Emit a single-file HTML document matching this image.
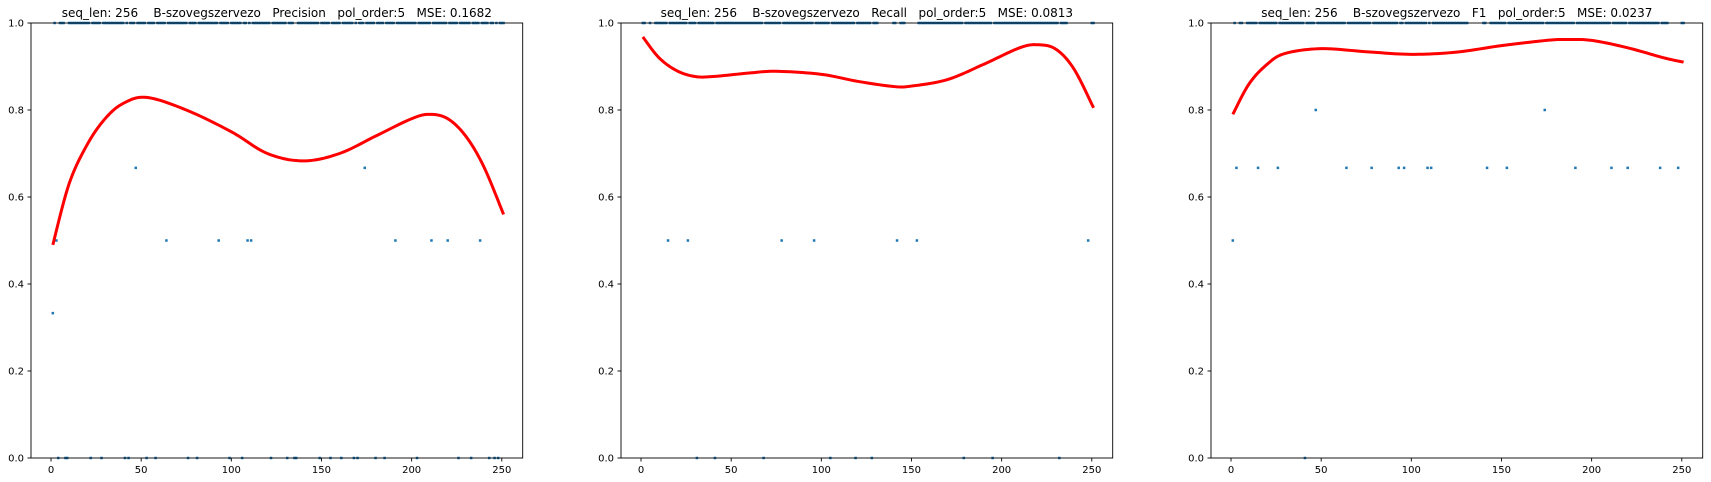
<!DOCTYPE html>
<html><head><meta charset="utf-8"><style>
html,body{margin:0;padding:0;background:#fff;}
svg{display:block;font-family:"DejaVu Sans","Liberation Sans",sans-serif;}
.ttl{white-space:pre;}
</style></head><body>
<svg id="fig" width="1711" height="482" viewBox="0 0 1711 482" xmlns="http://www.w3.org/2000/svg" xml:space="preserve"></svg>
<script>
// ---- data ----
const titles = [
  "seq_len: 256    B-szovegszervezo   Precision   pol_order:5   MSE: 0.1682",
  "seq_len: 256    B-szovegszervezo   Recall   pol_order:5   MSE: 0.0813",
  "seq_len: 256    B-szovegszervezo   F1   pol_order:5   MSE: 0.0237"
];
const xTicks = [0, 50, 100, 150, 200, 250];
const yTicks = [0, 0.2, 0.4, 0.6, 0.8, 1.0];
const yTickLabels = ["0.0", "0.2", "0.4", "0.6", "0.8", "1.0"];

// fitted curves (x, y)
const precCurveX = [1, 10, 20, 30, 40, 53, 75, 100, 120, 140, 160, 180, 200, 210, 220, 230, 240, 251];
const precCurveY = [0.49, 0.63, 0.72, 0.78, 0.815, 0.829, 0.80, 0.75, 0.70, 0.683, 0.70, 0.74, 0.78, 0.79, 0.78, 0.74, 0.67, 0.56];
const recCurveX = [1, 10, 20, 30, 40, 60, 75, 100, 120, 140, 150, 170, 190, 210, 220, 230, 240, 251];
const recCurveY = [0.968, 0.92, 0.89, 0.877, 0.877, 0.885, 0.889, 0.882, 0.866, 0.854, 0.855, 0.87, 0.905, 0.943, 0.95, 0.94, 0.895, 0.805];
const f1CurveX = [1, 10, 20, 30, 50, 75, 100, 125, 150, 175, 185, 200, 220, 240, 251];
const f1CurveY = [0.79, 0.86, 0.905, 0.93, 0.941, 0.934, 0.928, 0.933, 0.948, 0.96, 0.962, 0.96, 0.943, 0.92, 0.91];

// scatter points (non-1 values)
const precPtsX = [1,3,64,93,109,111,191,211,220,238,47,174,4,8,9,22,28,41,43,53,58,76,81,99,106,122,131,135,136,149,155,161,168,170,180,185,203,226,233,243,246,248];
const precPtsY = [0.333,0.5,0.5,0.5,0.5,0.5,0.5,0.5,0.5,0.5,0.667,0.667,0,0,0,0,0,0,0,0,0,0,0,0,0,0,0,0,0,0,0,0,0,0,0,0,0,0,0,0,0,0];
const recPtsX = [15,26,78,96,142,153,248,31,41,68,105,119,128,179,195,232];
const recPtsY = [0.5,0.5,0.5,0.5,0.5,0.5,0.5,0,0,0,0,0,0,0,0,0];
const f1PtsX = [1,3,15,26,64,78,93,96,109,111,142,153,191,211,220,238,248,47,174,41];
const f1PtsY = [0.5,0.667,0.667,0.667,0.667,0.667,0.667,0.667,0.667,0.667,0.667,0.667,0.667,0.667,0.667,0.667,0.667,0.8,0.8,0];

// runs of x positions where value == 1.0
const precOnes = [[2,2],[5,7],[10,21],[23,27],[29,40],[42,42],[44,46],[48,52],[54,57],[59,63],[65,75],[77,80],[82,92],[94,98],[100,105],[107,108],[110,110],[112,121],[123,130],[132,134],[137,148],[150,154],[156,160],[162,167],[169,169],[171,173],[175,179],[181,184],[186,190],[192,202],[204,210],[212,219],[221,225],[227,232],[234,237],[239,242],[244,245],[247,247],[249,251]];
const recOnes = [[1,2],[5,5],[8,14],[16,25],[27,30],[32,40],[42,67],[69,77],[79,95],[97,104],[106,118],[120,127],[129,131],[140,141],[144,146],[154,178],[180,194],[196,231],[233,236],[250,251]];
const f1Ones = [[2,2],[5,6],[9,14],[16,25],[27,40],[42,46],[48,63],[65,77],[79,92],[94,95],[97,108],[110,110],[112,131],[140,141],[144,152],[154,173],[175,190],[192,210],[212,219],[221,237],[239,242],[250,251]];

const panels = [
  {key:"precision", cx:precCurveX, cy:precCurveY, px:precPtsX, py:precPtsY, ones:precOnes},
  {key:"recall", cx:recCurveX, cy:recCurveY, px:recPtsX, py:recPtsY, ones:recOnes},
  {key:"f1", cx:f1CurveX, cy:f1CurveY, px:f1PtsX, py:f1PtsY, ones:f1Ones}
];

// ---- layout ----
const NS = "http://www.w3.org/2000/svg";
const svg = document.getElementById("fig");
const AX_LEFT0 = 31, AX_W = 491.7, AX_TOP = 23, AX_BOT = 458, PANEL_DX = 590;
const XMIN = -11.1, XMAX = 261.6;
function mk(tag, attrs, parent){const e=document.createElementNS(NS,tag);for(const k in attrs)e.setAttribute(k,attrs[k]);(parent||svg).appendChild(e);return e;}

panels.forEach((p, i) => {
  const L = AX_LEFT0 + i*PANEL_DX;
  const sx = v => L + (v - XMIN) / (XMAX - XMIN) * AX_W;
  const sy = v => AX_BOT - v * (AX_BOT - AX_TOP);
  const g = mk("g", {});
  
  

  // title
  const t = mk("text", {x: L + AX_W/2, y: 17, "text-anchor":"middle", "font-size":"12", fill:"#000", "class":"ttl"}, g);
  t.textContent = titles[i];
  
  

  // scatter
  const sg = mk("g", {fill:"#1f77b4"}, g);
  
  
  const dot = (x, y) => {
    const r = mk("rect", {x: sx(x)-1.25, y: sy(y)-1.25, width:2.5, height:2.5}, sg);
    
    
  };
  p.px.forEach((x, k) => dot(x, p.py[k]));
  p.ones.forEach(([a, b]) => { for (let x = a; x <= b; x++) dot(x, 1); });

  // curve (Catmull-Rom through sampled points)
  const X = p.cx, Y = p.cy;
  let d = "M" + sx(X[0]).toFixed(2) + "," + sy(Y[0]).toFixed(2);
  for (let k = 0; k < X.length-1; k++) {
    const x0 = X[Math.max(k-1,0)], y0 = Y[Math.max(k-1,0)];
    const x1 = X[k], y1 = Y[k], x2 = X[k+1], y2 = Y[k+1];
    const x3 = X[Math.min(k+2,X.length-1)], y3 = Y[Math.min(k+2,X.length-1)];
    for (let s = 1; s <= 12; s++) {
      const u = s/12, u2 = u*u, u3 = u2*u;
      const xx = 0.5*((2*x1)+(-x0+x2)*u+(2*x0-5*x1+4*x2-x3)*u2+(-x0+3*x1-3*x2+x3)*u3);
      const yy = 0.5*((2*y1)+(-y0+y2)*u+(2*y0-5*y1+4*y2-y3)*u2+(-y0+3*y1-3*y2+y3)*u3);
      d += " L" + sx(xx).toFixed(2) + "," + sy(yy).toFixed(2);
    }
  }
  const path = mk("path", {d, fill:"none", stroke:"#ff0000", "stroke-width":3, "stroke-linejoin":"round"}, g);
  
  

  // axes frame
  const fr = mk("rect", {x:L, y:AX_TOP, width:AX_W, height:AX_BOT-AX_TOP, fill:"none", stroke:"#000", "stroke-width":0.9}, g);
  
  

  // x ticks
  xTicks.forEach(v => {
    const x = sx(v);
    mk("line", {x1:x, x2:x, y1:AX_BOT, y2:AX_BOT+3.5, stroke:"#000", "stroke-width":0.9}, g);
    const tl = mk("text", {x:x, y:AX_BOT+15, "text-anchor":"middle", "font-size":"10", fill:"#000"}, g);
    tl.textContent = String(v);
    
    
  });
  // y ticks
  yTicks.forEach((v, k) => {
    const y = sy(v);
    mk("line", {x1:L-3.5, x2:L, y1:y, y2:y, stroke:"#000", "stroke-width":0.9}, g);
    const tl = mk("text", {x:L-7, y:y+3.6, "text-anchor":"end", "font-size":"10", fill:"#000"}, g);
    tl.textContent = yTickLabels[k];
    
    
  });
});
</script>
</body></html>
